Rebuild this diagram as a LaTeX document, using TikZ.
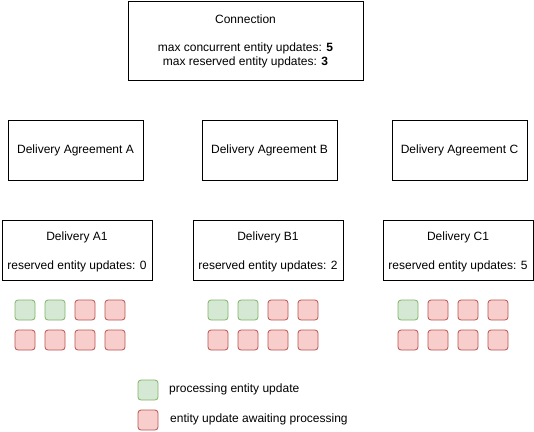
\documentclass[tikz,border=0pt]{standalone}
\usepackage{fontspec}
\setmainfont{Liberation Sans}
\definecolor{procfill}{HTML}{D5E8D4}
\definecolor{procline}{HTML}{82B366}
\definecolor{waitfill}{HTML}{F8CECC}
\definecolor{waitline}{HTML}{B85450}
\tikzset{
  box/.style={draw=black,line width=0.9pt,rectangle,inner sep=0pt},
  txt/.style={inner sep=0pt,font=\fontsize{12}{14}\selectfont},
  proc/.style={draw=procline,fill=procfill,line width=0.8pt,rounded corners=3pt,minimum width=20pt,minimum height=20pt,inner sep=0pt},
  wait/.style={draw=waitline,fill=waitfill,line width=0.8pt,rounded corners=3pt,minimum width=20pt,minimum height=20pt,inner sep=0pt}
}
\begin{document}
\begin{tikzpicture}[x=1pt,y=-1pt]
\useasboundingbox (0,0) rectangle (534,431);

% connection
\node[box,minimum width=235pt,minimum height=79pt] (conn) at (245.5,40.5) {};
\node[txt] (conntitle) at (245.5,19) {Connection};
\node[txt] (connmax) at (245.5,48) {max concurrent entity updates: \textbf{5}};
\node[txt] (connres) at (245.5,62) {max reserved entity updates: \textbf{3}};

% agreements
\node[box,minimum width=135pt,minimum height=60pt,txt] (agrA) at (75.5,150) {Delivery Agreement A};
\node[box,minimum width=135pt,minimum height=60pt,txt] (agrB) at (269.5,150) {Delivery Agreement B};
\node[box,minimum width=135pt,minimum height=60pt,txt] (agrC) at (459.5,150) {Delivery Agreement C};

% deliveries
\node[box,minimum width=150pt,minimum height=60pt] (delA) at (77,250) {};
\node[txt] (delAtitle) at (77,237) {Delivery A1};
\node[txt] (delAres) at (77,266) {reserved entity updates: 0};

\node[box,minimum width=150pt,minimum height=60pt] (delB) at (268,250) {};
\node[txt] (delBtitle) at (268,237) {Delivery B1};
\node[txt] (delBres) at (268,266) {reserved entity updates: 2};

\node[box,minimum width=150pt,minimum height=60pt] (delC) at (458,250) {};
\node[txt] (delCtitle) at (458,237) {Delivery C1};
\node[txt] (delCres) at (458,266) {reserved entity updates: 5};

% updates A
\node[proc] (a1) at (25,310) {};
\node[proc] (a2) at (55,310) {};
\node[wait] (a3) at (85,310) {};
\node[wait] (a4) at (115,310) {};
\node[wait] (a5) at (25,340) {};
\node[wait] (a6) at (55,340) {};
\node[wait] (a7) at (85,340) {};
\node[wait] (a8) at (115,340) {};

% updates B
\node[proc] (b1) at (218,310) {};
\node[proc] (b2) at (248,310) {};
\node[wait] (b3) at (278,310) {};
\node[wait] (b4) at (308,310) {};
\node[wait] (b5) at (218,340) {};
\node[wait] (b6) at (248,340) {};
\node[wait] (b7) at (278,340) {};
\node[wait] (b8) at (308,340) {};

% updates C
\node[proc] (c1) at (408,310) {};
\node[wait] (c2) at (438,310) {};
\node[wait] (c3) at (468,310) {};
\node[wait] (c4) at (498,310) {};
\node[wait] (c5) at (408,340) {};
\node[wait] (c6) at (438,340) {};
\node[wait] (c7) at (468,340) {};
\node[wait] (c8) at (498,340) {};

% legend
\node[proc] (legproc) at (148,390) {};
\node[txt,anchor=west] (legproctxt) at (169,389) {processing entity update};
\node[wait] (legwait) at (148,420) {};
\node[txt,anchor=west] (legwaittxt) at (170,419) {entity update awaiting processing};

\end{tikzpicture}
\end{document}
